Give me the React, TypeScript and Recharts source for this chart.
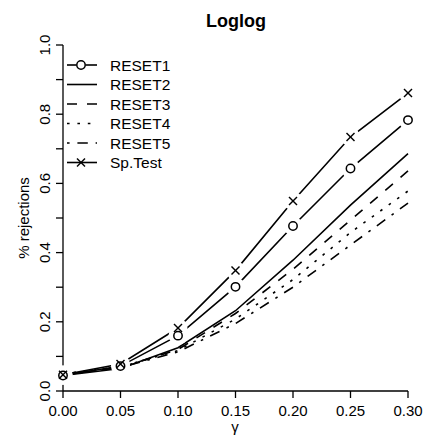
import React from "react";
import { LineChart, Line, XAxis, YAxis } from "recharts";

// gamma values on the x axis
const GAMMA = [0, 0.05, 0.1, 0.15, 0.2, 0.25, 0.3];

// rejection rates
const RESET1 = [0.045, 0.072, 0.16, 0.301, 0.477, 0.643, 0.783];
const RESET2 = [0.045, 0.065, 0.125, 0.232, 0.378, 0.537, 0.686];
const RESET3 = [0.048, 0.068, 0.12, 0.224, 0.352, 0.494, 0.636];
const RESET4 = [0.05, 0.07, 0.117, 0.208, 0.322, 0.458, 0.578];
const RESET5 = [0.047, 0.068, 0.113, 0.195, 0.3, 0.422, 0.543];
const SP_TEST = [0.047, 0.078, 0.182, 0.348, 0.549, 0.734, 0.861];

const X_TICKS = [0, 0.05, 0.1, 0.15, 0.2, 0.25, 0.3];
const Y_TICKS = [0, 0.1, 0.2, 0.3, 0.4, 0.5, 0.6, 0.7, 0.8, 0.9, 1.0];

const FONT = "'Liberation Sans', Arial, sans-serif";
const FS = 15;
const LW = 1.6;

// R-style line types (lwd-scaled)
const DASHED = "10 10";
const DOTTED = "2.6 7.8";
const DOTDASH = "2.6 7.8 10.4 7.8";

// separate keys for the masks / markers so every Line has its own dataKey
const data = GAMMA.map((g, i) => ({
  g,
  r1: RESET1[i],
  r1Mask: RESET1[i],
  r1Mark: RESET1[i],
  r2: RESET2[i],
  r3: RESET3[i],
  r4: RESET4[i],
  r5: RESET5[i],
  sp: SP_TEST[i],
  spMask: SP_TEST[i],
  spMark: SP_TEST[i],
}));

/* white disc under a marker -> gives the "type = b" gap in the line */
function MaskDot(props: any) {
  const { cx, cy, index } = props;
  if (cx == null || cy == null) return <g key={index} />;
  return <circle key={index} cx={cx} cy={cy} r={9.5} fill="#fff" stroke="none" />;
}

function CircleDot(props: any) {
  const { cx, cy, index } = props;
  if (cx == null || cy == null) return <g key={index} />;
  return (
    <circle key={index} cx={cx} cy={cy} r={4.2} fill="none" stroke="#000" strokeWidth={1.5} />
  );
}

function CrossDot(props: any) {
  const { cx, cy, index } = props;
  if (cx == null || cy == null) return <g key={index} />;
  const d = 4;
  return (
    <g key={index} stroke="#000" strokeWidth={1.5}>
      <line x1={cx - d} y1={cy - d} x2={cx + d} y2={cy + d} />
      <line x1={cx - d} y1={cy + d} x2={cx + d} y2={cy - d} />
    </g>
  );
}

function YTick(props: any) {
  const { y, payload } = props;
  const v = payload.value;
  // only every other tick is labelled
  if (Math.round(v * 10) % 2 !== 0) return <g />;
  return (
    <text
      x={50}
      y={y}
      transform={`rotate(-90 50 ${y})`}
      textAnchor="middle"
      fontSize={FS}
      fontFamily={FONT}
      fill="#000"
    >
      {v.toFixed(1)}
    </text>
  );
}

const LEGEND = [
  { name: "RESET1", dash: undefined, mark: "o" },
  { name: "RESET2", dash: undefined, mark: "" },
  { name: "RESET3", dash: DASHED, mark: "" },
  { name: "RESET4", dash: DOTTED, mark: "" },
  { name: "RESET5", dash: DOTDASH, mark: "" },
  { name: "Sp.Test", dash: undefined, mark: "x" },
];

function Overlay() {
  return (
    <svg
      width={424}
      height={441}
      style={{ position: "absolute", left: 0, top: 0, pointerEvents: "none" }}
      fontFamily={FONT}
    >
      <text x={236} y={27} textAnchor="middle" fontSize={18} fontWeight="bold">
        Loglog
      </text>
      <text
        x={29}
        y={218}
        transform="rotate(-90 29 218)"
        textAnchor="middle"
        fontSize={FS}
      >
        % rejections
      </text>
      <text x={235} y={432} textAnchor="middle" fontSize={FS}>
        γ
      </text>
      {LEGEND.map((e, i) => {
        const y = 65 + i * 19.5;
        return (
          <g key={e.name}>
            {e.mark === "o" ? (
              <>
                <line x1={67} y1={y} x2={76.5} y2={y} stroke="#000" strokeWidth={LW} />
                <line x1={85.5} y1={y} x2={97} y2={y} stroke="#000" strokeWidth={LW} />
              </>
            ) : (
              <line
                x1={67}
                y1={y}
                x2={97}
                y2={y}
                stroke="#000"
                strokeWidth={LW}
                strokeDasharray={e.dash}
              />
            )}
            {e.mark === "o" && (
              <circle cx={81} cy={y} r={4.2} fill="none" stroke="#000" strokeWidth={1.5} />
            )}
            {e.mark === "x" && (
              <g stroke="#000" strokeWidth={1.5}>
                <line x1={77} y1={y - 4} x2={85} y2={y + 4} />
                <line x1={77} y1={y + 4} x2={85} y2={y - 4} />
              </g>
            )}
            <text x={110} y={y + 5.5} fontSize={15.5}>
              {e.name}
            </text>
          </g>
        );
      })}
    </svg>
  );
}

export default function App() {
  return (
    <div style={{ position: "absolute", left: 0, top: 0, width: 424, height: 441, background: "#fff" }}>
      <LineChart
        width={424}
        height={441}
        data={data}
        margin={{ top: 45, right: 16, bottom: 0, left: 0 }}
      >
        <XAxis
          dataKey="g"
          type="number"
          domain={[0, 0.3]}
          ticks={X_TICKS}
          tickFormatter={(v: number) => v.toFixed(2)}
          height={50}
          tickSize={7}
          tickMargin={7}
          interval={0}
          axisLine={{ stroke: "#000", strokeWidth: 1.3 }}
          tickLine={{ stroke: "#000", strokeWidth: 1.3 }}
          tick={{ fill: "#000", fontSize: FS, fontFamily: FONT }}
        />
        <YAxis
          type="number"
          domain={[0, 1]}
          ticks={Y_TICKS}
          width={63}
          tickSize={7}
          interval={0}
          axisLine={{ stroke: "#000", strokeWidth: 1.3 }}
          tickLine={{ stroke: "#000", strokeWidth: 1.3 }}
          tick={<YTick />}
        />
        <Line dataKey="r1" stroke="#000" strokeWidth={LW} dot={false} isAnimationActive={false} />
        <Line dataKey="sp" stroke="#000" strokeWidth={LW} dot={false} isAnimationActive={false} />
        <Line dataKey="r1Mask" stroke="none" dot={<MaskDot />} isAnimationActive={false} />
        <Line dataKey="spMask" stroke="none" dot={<MaskDot />} isAnimationActive={false} />
        <Line dataKey="r2" stroke="#000" strokeWidth={LW} dot={false} isAnimationActive={false} />
        <Line dataKey="r3" stroke="#000" strokeWidth={LW} strokeDasharray={DASHED} dot={false} isAnimationActive={false} />
        <Line dataKey="r4" stroke="#000" strokeWidth={LW} strokeDasharray={DOTTED} dot={false} isAnimationActive={false} />
        <Line dataKey="r5" stroke="#000" strokeWidth={LW} strokeDasharray={DOTDASH} dot={false} isAnimationActive={false} />
        <Line dataKey="r1Mark" stroke="none" dot={<CircleDot />} isAnimationActive={false} />
        <Line dataKey="spMark" stroke="none" dot={<CrossDot />} isAnimationActive={false} />
      </LineChart>
      <Overlay />
    </div>
  );
}
